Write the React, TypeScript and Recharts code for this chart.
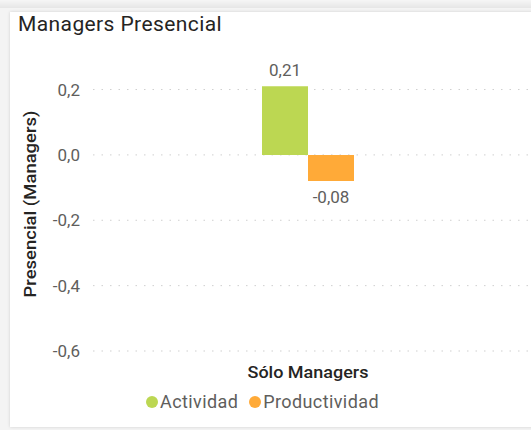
import React from "react";
import { BarChart, Bar, XAxis, YAxis, CartesianGrid, LabelList } from "recharts";

const categories = ["Sólo Managers"];
const actividad = [0.21];
const productividad = [-0.08];
const yTicks = [-0.6, -0.4, -0.2, 0, 0.2];

const seriesNames = ["Actividad", "Productividad"];
const seriesColors = ["#bcd752", "#ffaa38"];

const data = categories.map((c, i) => ({
  name: c,
  Actividad: actividad[i],
  Productividad: productividad[i],
}));

const FONT = "Roboto, 'Noto Sans', sans-serif";
const fmt = (v: number, d: number) => v.toFixed(d).replace(".", ",");

const CategoryTick = (props: any) => {
  const { x, y, payload } = props;
  return (
    <text
      x={x}
      y={y + 19}
      textAnchor="middle"
      fill="#252423"
      fontSize={17}
      fontWeight={500}
      fontFamily={FONT}
      textLength={121}
      lengthAdjust="spacingAndGlyphs"
    >
      {payload.value}
    </text>
  );
};

const YTitle = () => (
  <text
    x={30}
    y={204}
    transform="rotate(-90 30 204)"
    textAnchor="middle"
    dominantBaseline="central"
    fill="#252423"
    fontSize={17}
    fontWeight={500}
    fontFamily={FONT}
    textLength={187}
    lengthAdjust="spacingAndGlyphs"
  >
    Presencial (Managers)
  </text>
);

export default function App() {
  return (
    <div style={{ position: "fixed", left: 0, top: 0, width: 531, height: 430, overflow: "hidden", background: "#f4f4f4" }}>
      <div style={{ position: "absolute", left: 0, top: 0, width: 531, height: 8, background: "linear-gradient(#f6f6f6, #e6e6e6)" }} />
      <div
        style={{
          position: "absolute",
          left: 10,
          top: 12,
          width: 540,
          height: 415,
          background: "#fff",
          boxShadow: "0 0 3px rgba(0,0,0,0.15)",
        }}
      />
      <div style={{ position: "absolute", left: 18, top: 12, fontFamily: FONT, fontSize: 21, color: "#252423", letterSpacing: 0.4 }}>
        Managers Presencial
      </div>
      <div style={{ position: "absolute", left: 0, top: 0 }}>
        <BarChart width={545} height={430} data={data} margin={{ top: 83, right: 0, bottom: 0, left: 10 }} barGap={0} barSize={46}>
          <CartesianGrid
            vertical={false}
            horizontalValues={yTicks}
            stroke="#cfcfcf"
            strokeDasharray="1.5 7"
          />
          <XAxis
            dataKey="name"
            axisLine={false}
            tickLine={false}
            tick={<CategoryTick />}
            height={79}
            padding={{ left: 0, right: 22 }}
          />
          <YAxis
            type="number"
            domain={[-0.6, 0.22]}
            ticks={yTicks}
            axisLine={false}
            tickLine={false}
            tickMargin={7}
            width={83}
            tickFormatter={(v: number) => fmt(v, 1)}
            tick={{ fill: "#605e5c", fontSize: 17, fontFamily: FONT }}
            label={<YTitle />}
          />
          {seriesNames.map((n, i) => (
            <Bar key={n} dataKey={n} fill={seriesColors[i]} isAnimationActive={false}>
              <LabelList
                dataKey={n}
                position="top"
                offset={10}
                formatter={(v: any) => fmt(Number(v), 2)}
                fill="#605e5c"
                fontSize={17}
                fontFamily={FONT}
              />
            </Bar>
          ))}
        </BarChart>
      </div>
      <div
        style={{
          position: "absolute",
          left: 146,
          top: 391,
          display: "flex",
          fontFamily: FONT,
          fontSize: 18,
          color: "#605e5c",
          letterSpacing: 0.4,
        }}
      >
        {seriesNames.map((n, i) => (
          <span key={n} style={{ display: "flex", alignItems: "center", marginRight: 11 }}>
            <span style={{ width: 12, height: 12, borderRadius: "50%", background: seriesColors[i], marginRight: 2 }} />
            {n}
          </span>
        ))}
      </div>
    </div>
  );
}
